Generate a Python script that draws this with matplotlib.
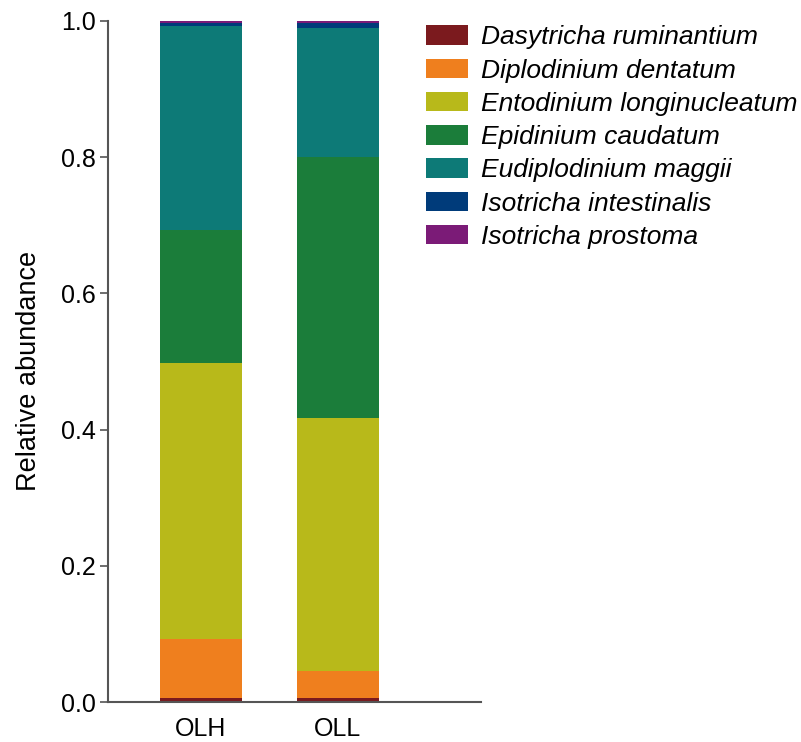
import matplotlib
matplotlib.use("Agg")
import matplotlib.pyplot as plt
import numpy as np

plt.rcParams['font.family'] = ['Liberation Sans', 'DejaVu Sans']

# ------------------------
groups = ['OLH', 'OLL']
species = ['Dasytricha ruminantium', 'Diplodinium dentatum', 'Entodinium longinucleatum',
           'Epidinium caudatum', 'Eudiplodinium maggii', 'Isotricha intestinalis',
           'Isotricha prostoma']
dasytricha = [0.006, 0.006]
diplodinium = [0.087, 0.040]
entodinium = [0.405, 0.371]
epidinium = [0.195, 0.383]
eudiplodinium = [0.300, 0.190]
isotricha_int = [0.004, 0.007]
isotricha_pro = [0.003, 0.003]
colors = ['#7b1a1e', '#ef7f1e', '#b8b91a', '#1b7d3a', '#0d7a77', '#003b7a', '#7b1b77']
# ------------------------------

series = [dasytricha, diplodinium, entodinium, epidinium, eudiplodinium,
          isotricha_int, isotricha_pro]

fig = plt.figure(figsize=(8.01, 7.42), dpi=100)
ax = fig.add_axes([0.1348, 0.0539, 0.4657, 0.9178])

x = np.arange(len(groups))
bottom = np.zeros(len(groups))
handles = []
for name, vals, c in zip(species, series, colors):
    b = ax.bar(x, vals, width=0.6, bottom=bottom, color=c, label=name,
               linewidth=0, clip_on=False)
    handles.append(b)
    bottom += np.array(vals)

ax.set_xlim(-0.68, 2.05)
ax.set_ylim(0, 1.0)
ax.set_yticks([0, 0.2, 0.4, 0.6, 0.8, 1.0])
ax.set_yticklabels(['0.0', '0.2', '0.4', '0.6', '0.8', '1.0'])
ax.set_xticks(x)
ax.set_xticklabels(groups)
ax.tick_params(axis='y', length=6, width=1.2, color='#555555', labelsize=18, pad=3)
ax.tick_params(axis='x', length=0, labelsize=18, pad=11)
ax.set_ylabel('Relative abundance', fontsize=19.5)
ax.yaxis.set_label_coords(-0.177, 0.486)

for side in ['top', 'right']:
    ax.spines[side].set_visible(False)
for side in ['left', 'bottom']:
    ax.spines[side].set_color('#555555')
    ax.spines[side].set_linewidth(1.5)

leg = fig.legend(handles=handles, labels=species, loc='upper left',
                 bbox_to_anchor=(0.5185, 0.98), frameon=False,
                 prop={'style': 'italic', 'size': 19},
                 handlelength=1.6, handleheight=0.76, handletextpad=0.5,
                 labelspacing=0.35, borderaxespad=0)

plt.savefig('out.png', dpi=100)
